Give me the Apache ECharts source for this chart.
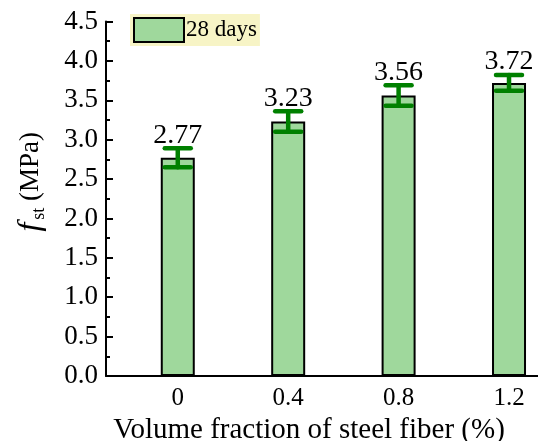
<!DOCTYPE html>
<html><head><meta charset="utf-8">
<script src="https://cdn.jsdelivr.net/npm/echarts@6/dist/echarts.min.js"></script>
<style>html,body{margin:0;padding:0;background:#fff}#c{width:538px;height:441px}</style>
</head><body><div id="c"></div>
<script>
const categories = [0, 0.4, 0.8, 1.2];
const categoryLabels = ['0', '0.4', '0.8', '1.2'];
const strength = [2.77, 3.23, 3.56, 3.72];
const errors = [0.12, 0.13, 0.13, 0.10];
const seriesName = '28 days';

const FONT = "Liberation Serif";
const chart = echarts.init(document.getElementById('c'));
const barData = categories.map((c, i) => [c, strength[i]]);
const errData = categories.map((c, i) => [c, strength[i], errors[i]]);

chart.setOption({
  animation: false,
  textStyle: {fontFamily: FONT},
  grid: {left: 106, right: 0, top: 21.5, bottom: 65, containLabel: false, outerBoundsMode: 'none'},
  legend: {
    left: 130, top: 14, itemWidth: 50, itemHeight: 24, itemGap: 0,
    backgroundColor: '#f7f4c6', padding: [3, 3, 3, 3], borderRadius: 0,
    data: [{name: seriesName, icon: 'rect', itemStyle: {color: '#9fd89c', borderColor: '#000', borderWidth: 2}}],
    textStyle: {fontFamily: FONT, fontSize: 23, color: '#000', padding: [0, 0, 0, -3]}
  },
  xAxis: {
    type: 'value', min: -0.26, max: 1.305,
    axisLine: {show: true, onZero: false, lineStyle: {color: '#000', width: 2}},
    axisTick: {show: false},
    splitLine: {show: false},
    axisLabel: {
      customValues: categories, color: '#000', fontFamily: FONT, fontSize: 25, margin: 10,
      formatter: v => categoryLabels[categories.indexOf(Math.round(v * 10) / 10)]
    },
    name: 'Volume fraction of steel fiber (%)', nameLocation: 'middle', nameGap: 35,
    nameTextStyle: {fontFamily: FONT, fontSize: 29, color: '#000', padding: [0, 26, 0, 0]}
  },
  yAxis: {
    type: 'value', min: 0, max: 4.5, interval: 0.5,
    axisLine: {show: true, onZero: false, lineStyle: {color: '#000', width: 2}},
    axisTick: {show: true, inside: true, length: 7, lineStyle: {color: '#000', width: 2}},
    minorTick: {show: true, splitNumber: 2, length: 4, lineStyle: {color: '#000', width: 2}},
    splitLine: {show: false},
    axisLabel: {color: '#000', fontFamily: FONT, fontSize: 27, margin: 8,
      formatter: v => v.toFixed(1)},
    name: '{f|f}{s|st}{m| (MPa)}', nameLocation: 'middle', nameGap: 58,
    nameTextStyle: {
      color: '#000', fontFamily: FONT, padding: [0, 0, 0, 34],
      rich: {
        f: {fontFamily: FONT, fontStyle: 'italic', fontSize: 32, color: '#000', lineHeight: 34, padding: [0, 3, 0, 0]},
        s: {fontFamily: FONT, fontSize: 18, color: '#000', verticalAlign: 'bottom', lineHeight: 34, padding: [10, 0, 0, 0]},
        m: {fontFamily: FONT, fontSize: 27, color: '#000', lineHeight: 34}
      }
    }
  },
  series: [
    {
      name: seriesName, type: 'bar', data: barData, barWidth: 34,
      itemStyle: {color: '#9fd89c', borderColor: '#000', borderWidth: 2}
    },
    {
      name: 'err', type: 'custom', data: errData, z: 5,
      renderItem: function (params, api) {
        const x = api.value(0), y = api.value(1), e = api.value(2);
        const top = api.coord([x, y + e]);
        const bot = api.coord([x, y - e]);
        const hw = 13;
        const st = {stroke: '#008000', lineWidth: 4.5, lineCap: 'round'};
        return {
          type: 'group',
          children: [
            {type: 'line', shape: {x1: top[0], y1: top[1], x2: bot[0], y2: bot[1]}, style: st},
            {type: 'line', shape: {x1: top[0] - hw, y1: top[1], x2: top[0] + hw, y2: top[1]}, style: st},
            {type: 'line', shape: {x1: bot[0] - hw, y1: bot[1], x2: bot[0] + hw, y2: bot[1]}, style: st},
            {type: 'text', x: top[0], y: top[1] + 1, style: {
              text: y.toFixed(2), fill: '#000', font: "28px " + FONT,
              textAlign: 'center', textVerticalAlign: 'bottom'}}
          ]
        };
      }
    }
  ]
});
</script></body></html>
